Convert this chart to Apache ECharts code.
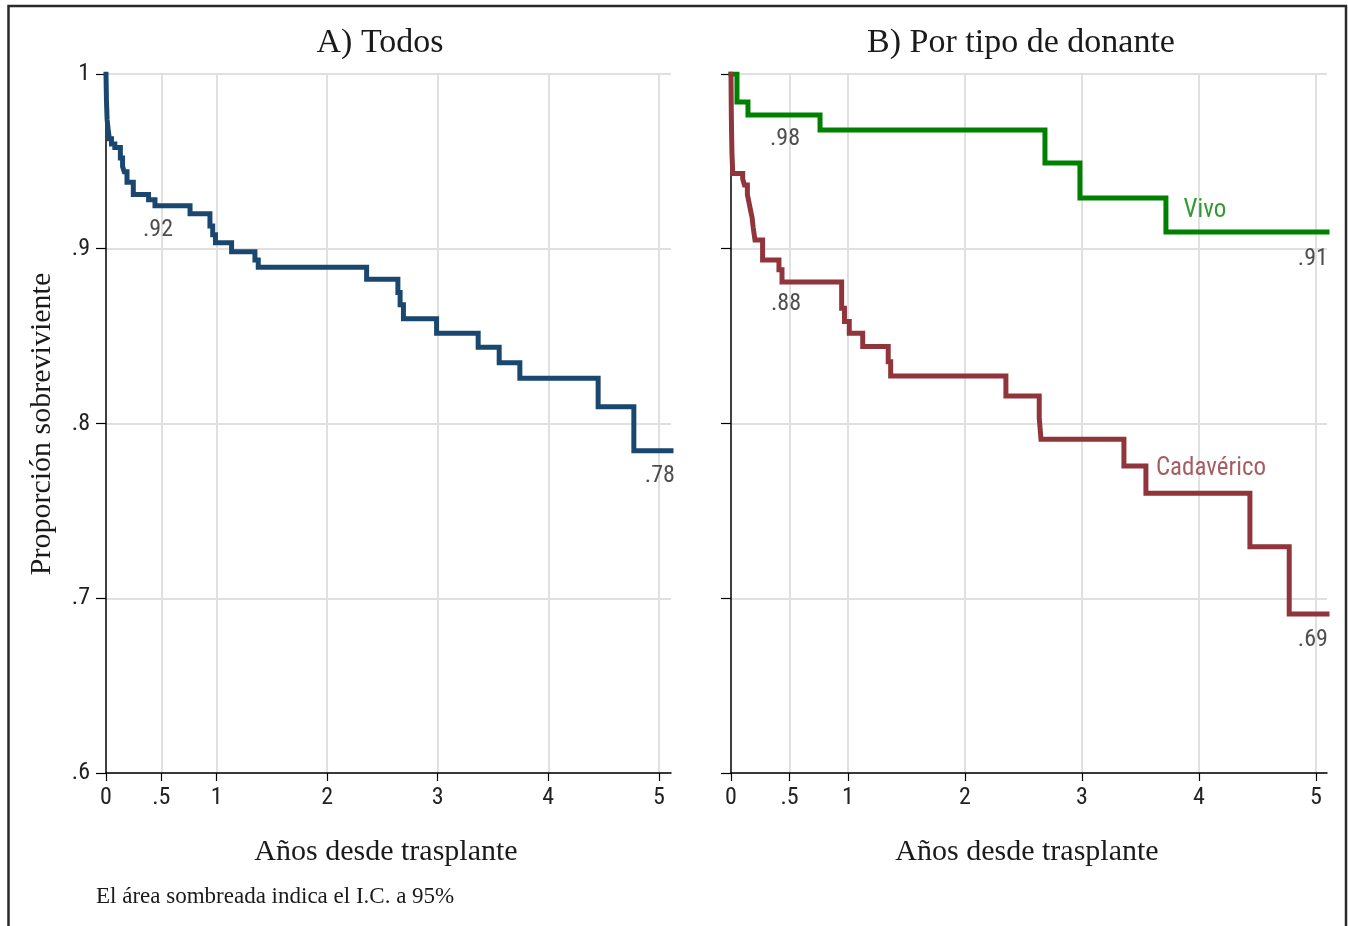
<!DOCTYPE html>
<html>
<head>
<meta charset="utf-8">
<script src="https://cdn.jsdelivr.net/npm/echarts@6/dist/echarts.min.js"></script>
<style>
html,body{margin:0;padding:0;background:#fff;}
#c{width:1348px;height:926px;}
</style>
</head>
<body>
<div id="c"></div>
<script>
// ---- data (years since transplant, survival proportion) ----
const todosT = [0,0.004,0.01,0.02,0.03,0.05,0.08,0.13,0.15,0.165,0.19,0.247,0.385,0.443,0.76,0.94,0.965,0.99,1.136,1.347,1.377,2.357,2.64,2.66,2.69,2.99,3.366,3.556,3.743,4.451,4.774,5.11];
const todosS = [1,0.985,0.974,0.968,0.963,0.960,0.958,0.952,0.947,0.944,0.938,0.931,0.928,0.9246,0.920,0.913,0.908,0.9035,0.8983,0.8936,0.8894,0.8825,0.875,0.868,0.860,0.8516,0.8436,0.8348,0.8259,0.8096,0.7844,0.7844];

const vivoT = [0,0.051,0.145,0.761,2.684,2.983,3.718,5.095];
const vivoS = [1,0.984,0.9765,0.968,0.949,0.929,0.9096,0.9096];

const cadT = [0,0.003,0.008,0.015,0.10,0.115,0.14,0.155,0.17,0.18,0.19,0.205,0.27,0.41,0.436,0.946,0.97,1.011,1.126,1.344,1.365,2.35,2.635,2.65,3.359,3.547,4.436,4.772,5.095];
const cadS = [1,0.975,0.955,0.943,0.940,0.9365,0.931,0.926,0.921,0.918,0.912,0.905,0.8936,0.888,0.881,0.8659,0.8583,0.8516,0.844,0.8354,0.8272,0.8157,0.8031,0.791,0.7757,0.7601,0.7295,0.691,0.691];

// ---- tick values / labels ----
const xTicks = [0,0.5,1,2,3,4,5];
const xGrid = [0.5,1,2,3,4,5];
const yTicks = [0.6,0.7,0.8,0.9,1];

// ---- annotations [x, y, text] in data units ----
const annotLeft = [[0.47,0.9107,'.92'],[5.009,0.770,'.78']];
const annotRight = [[0.4615,0.9628,'.98'],[4.974,0.8941,'.91'],[0.47,0.8684,'.88'],[4.974,0.6761,'.69']];
const seriesNames = [[4.051,0.9216,'Vivo'],[4.103,0.774,'Cadavérico']];

const zip = (t,s)=>t.map((v,i)=>[v,s[i]]);
const SANS = '"Liberation Sans Narrow","Roboto Condensed","Liberation Sans",Arial,sans-serif';
const SERIF = '"Liberation Serif","DejaVu Serif",serif';
const fmtX = v => v===0.5 ? '.5' : String(v);
const fmtY = v => Math.abs(v-1)<1e-9 ? '1' : '.'+Math.round(v*10);

function xAxis(gi,max){
  return {
    type:'value', gridIndex:gi, min:0, max:max,
    axisLine:{show:true,onZero:false,lineStyle:{color:'#000',width:1.5}},
    axisTick:{show:true,customValues:xTicks,length:8,lineStyle:{color:'#000',width:1.2}},
    axisLabel:{customValues:xTicks,formatter:fmtX,fontSize:24,fontFamily:SANS,color:'#222',margin:13},
    splitLine:{show:false}
  };
}
function yAxis(gi,showLabels){
  return {
    type:'value', gridIndex:gi, min:0.6, max:1, interval:0.1,
    axisLine:{show:true,onZero:false,lineStyle:{color:'#000',width:1.5}},
    axisTick:{show:true,length:10,lineStyle:{color:'#000',width:1.2}},
    axisLabel:{show:showLabels,formatter:fmtY,fontSize:24,fontFamily:SANS,color:'#222',margin:16},
    splitLine:{show:true,lineStyle:{color:'#e0e0e0',width:2}}
  };
}
function gridLines(gi){
  return {
    type:'line', xAxisIndex:gi, yAxisIndex:gi, data:[], silent:true, z:0,
    markLine:{silent:true,symbol:'none',label:{show:false},animation:false,z:0,
      lineStyle:{color:'#e0e0e0',width:2,type:'solid'},
      data:xGrid.map(v=>({xAxis:v}))}
  };
}
function curve(gi,data,color){
  return {type:'line',xAxisIndex:gi,yAxisIndex:gi,data:data,step:'end',showSymbol:false,
    lineStyle:{color:color,width:5,cap:'square',join:'miter'},z:10,animation:false};
}
function texts(gi,arr,color,size){
  return {type:'scatter',xAxisIndex:gi,yAxisIndex:gi,symbolSize:0,z:11,silent:true,animation:false,
    data:arr.map(a=>({value:[a[0],a[1]],name:a[2]})),
    label:{show:true,position:'inside',formatter:p=>p.name,fontSize:size,fontFamily:SANS,color:color}};
}
function txt(x,y,s,font,align,rot){
  const o={type:'text',x:x,y:y,style:{text:s,font:font,fill:'#1a1a1a',align:align,verticalAlign:'middle',textAlign:align,textVerticalAlign:'middle'}};
  if(rot) o.rotation=rot;
  return o;
}

const chart = echarts.init(document.getElementById('c'),null,{renderer:'canvas'});
chart.setOption({
  backgroundColor:'#fff',
  animation:false,
  grid:[
    {left:106,top:74,width:565,height:699},
    {left:731,top:74,width:596,height:699}
  ],
  xAxis:[xAxis(0,5.11),xAxis(1,5.095)],
  yAxis:[yAxis(0,true),yAxis(1,false)],
  series:[
    gridLines(0), gridLines(1),
    curve(0,zip(todosT,todosS),'#1a476f'),
    curve(1,zip(vivoT,vivoS),'#008000'),
    curve(1,zip(cadT,cadS),'#90353b'),
    texts(0,annotLeft,'#222',24),
    texts(1,annotRight,'#222',24),
    texts(1,[seriesNames[0]],'#008000',25),
    texts(1,[seriesNames[1]],'#90353b',25)
  ],
  graphic:[
    {type:'rect',shape:{x:8.5,y:6,width:1337.5,height:960},style:{fill:'none',stroke:'#2a2a2a',lineWidth:2.5},silent:true},
    txt(380,43,'A) Todos','34px '+SERIF,'center'),
    txt(1021,43,'B) Por tipo de donante','34px '+SERIF,'center'),
    txt(386,852,'Años desde trasplante','30px '+SERIF,'center'),
    txt(1027,852,'Años desde trasplante','30px '+SERIF,'center'),
    txt(42,424,'Proporción sobreviviente','30px '+SERIF,'center',Math.PI/2),
    txt(96,897,'El área sombreada indica el I.C. a 95%','23px '+SERIF,'left')
  ]
});
</script>
</body>
</html>
